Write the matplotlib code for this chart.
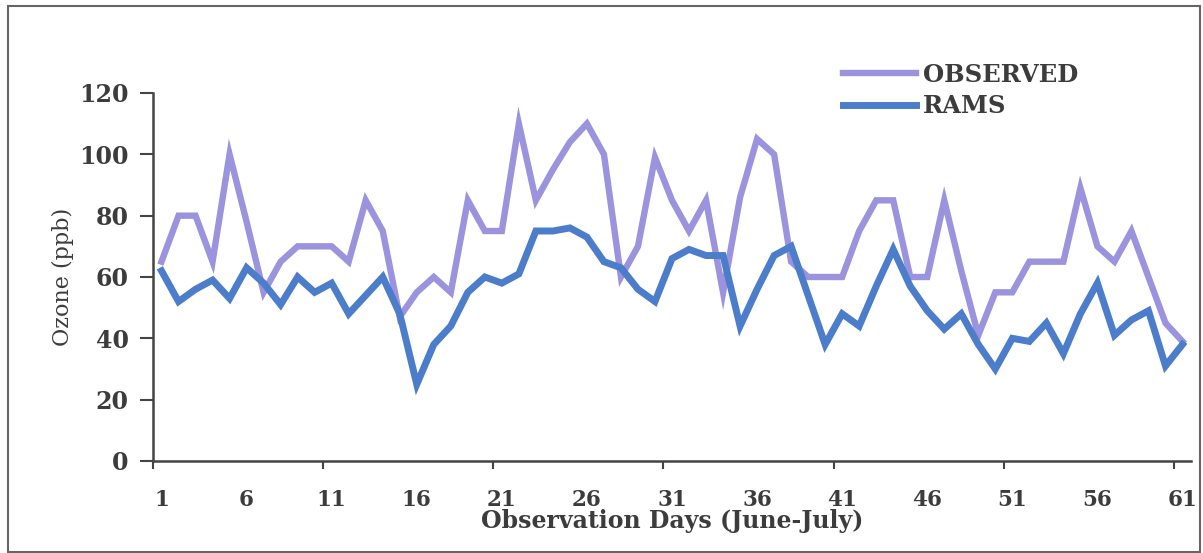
import numpy as np
import matplotlib
matplotlib.use('Agg')
import matplotlib.pyplot as plt
from matplotlib.patches import Rectangle

# days 1..61 (June-July)
days = np.arange(1, 62)
observed = [65, 80, 80, 65, 100, 78, 55, 65, 70, 70,
            70, 65, 85, 75, 47, 55, 60, 55, 85, 75,
            75, 110, 85, 95, 104, 110, 100, 60, 70, 99,
            85, 75, 85, 55, 86, 105, 100, 65, 60, 60,
            60, 75, 85, 85, 60, 60, 85, 62, 41, 55,
            55, 65, 65, 65, 89, 70, 65, 75, 60, 45,
            39]
rams = [62, 52, 56, 59, 53, 63, 58, 51, 60, 55,
        58, 48, 54, 60, 48, 25, 38, 44, 55, 60,
        58, 61, 75, 75, 76, 73, 65, 63, 56, 52,
        66, 69, 67, 67, 44, 56, 67, 70, 54, 38,
        48, 44, 57, 69, 57, 49, 43, 48, 38, 30,
        40, 39, 45, 35, 48, 58, 41, 46, 49, 31,
        38]
label_days = np.arange(1, 62, 5)

txt = '#3c3c3c'
fig = plt.figure(figsize=(12.03, 5.53), dpi=100)
ax = fig.add_axes([153 / 1203, 1 - 461 / 553, (1191 - 153) / 1203, (461 - 93) / 553])

ax.plot(days, observed, color='#9b93dd', lw=4.6, solid_joinstyle='miter', label='OBSERVED')
ax.plot(days, rams, color='#4b7dcb', lw=5.0, solid_joinstyle='miter', label='RAMS')

ax.set_xlim(0.5, 61.5)
ax.set_ylim(0, 120)
ax.set_yticks(range(0, 121, 20))
# category axis: marks every 10 days on boundaries, labels every 5 days
ax.set_xticks(np.arange(0.5, 61, 10))
ax.set_xticklabels([])
ax.set_xticks(label_days, minor=True)
ax.set_xticklabels([str(d) for d in label_days], minor=True)
ax.tick_params(axis='x', which='major', length=6, width=1.5, color='#444444')
ax.tick_params(axis='x', which='minor', length=0, pad=20)
ax.tick_params(axis='y', length=9.5, width=1.5, color='#444444', pad=8)

for lab in ax.get_xticklabels(minor=True):
    lab.set_fontfamily('DejaVu Serif')
    lab.set_fontweight('bold')
    lab.set_fontsize(15.5)
    lab.set_color(txt)
for lab in ax.get_yticklabels():
    lab.set_fontfamily('DejaVu Serif')
    lab.set_fontweight('bold')
    lab.set_fontsize(17)
    lab.set_color(txt)

for side in ['top', 'right']:
    ax.spines[side].set_visible(False)
for side in ['left', 'bottom']:
    ax.spines[side].set_linewidth(1.8)
    ax.spines[side].set_color('#444444')

ax.set_ylabel('Ozone (ppb)', family='DejaVu Serif', fontsize=16, color=txt, labelpad=4)
ax.set_xlabel('Observation Days (June-July)', family='DejaVu Serif', fontweight='bold',
              fontsize=17, color=txt)
ax.xaxis.set_label_coords(0.5, -0.13)

leg = ax.legend(loc='upper left', bbox_to_anchor=(833 / 1203, 1 - 53 / 553),
                bbox_transform=fig.transFigure, frameon=False, handlelength=3.0,
                handletextpad=0.3, labelspacing=0.3, borderaxespad=0,
                prop={'family': 'DejaVu Serif', 'weight': 'bold', 'size': 17.5})
for t in leg.get_texts():
    t.set_color(txt)

fig.patches.append(Rectangle((8 / 1203, 1 / 553), 1192 / 1203, 546 / 553, transform=fig.transFigure,
                             fill=False, edgecolor='#666666', lw=1.5))

fig.savefig('out.png', dpi=100)
